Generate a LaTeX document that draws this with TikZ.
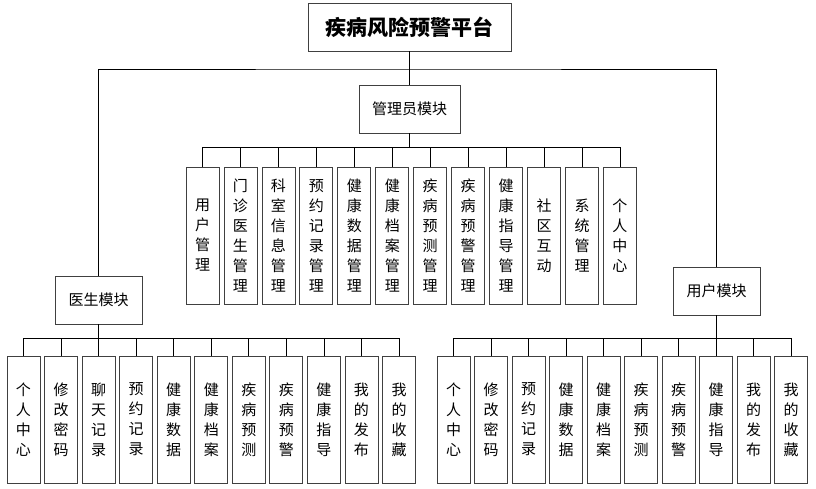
\documentclass[tikz,border=0pt]{standalone}
\usepackage{fontspec}
\newfontfamily\cjk{Noto Sans CJK SC}
\tikzset{
  box/.style={draw=black!75, line width=0.8pt, fill=white, inner sep=0pt, align=center},
  titlebox/.style={box, minimum width=203pt, minimum height=48pt, font=\cjk\bfseries\fontsize{21}{24}\selectfont},
  modbox/.style={box, minimum width=87pt, minimum height=48pt, font=\cjk\fontsize{15}{20}\selectfont},
  adminbox/.style={box, minimum width=101pt, minimum height=48pt, font=\cjk\fontsize{15}{20}\selectfont},
  vbox/.style={box, minimum width=33pt, font=\cjk\fontsize{15}{20}\selectfont},
  conn/.style={draw=black, line width=0.8pt}
}
\begin{document}
\begin{tikzpicture}[x=1pt,y=-1pt]
\useasboundingbox (0,0) rectangle (816,489);
\node[titlebox] (title) at (409.5,27) {疾病风险预警平台};
\node[adminbox] (adm) at (409.5,109) {管理员模块};
\node[modbox] (doc) at (98.5,300) {医生模块};
\node[modbox] (usr) at (716.5,291) {用户模块};
\coordinate (hl) at (409.5,69);
\draw[conn] (title.south) -- (adm.north);
\draw[conn] (doc.north) |- (hl) -| (usr.north);
% admin children
\foreach \t [count=\i from 0] in {用\\户\\管\\理, 门\\诊\\医\\生\\管\\理, 科\\室\\信\\息\\管\\理, 预\\约\\记\\录\\管\\理, 健\\康\\数\\据\\管\\理, 健\\康\\档\\案\\管\\理, 疾\\病\\预\\测\\管\\理, 疾\\病\\预\\警\\管\\理, 健\\康\\指\\导\\管\\理, 社\\区\\互\\动, 系\\统\\管\\理, 个\\人\\中\\心}{
  \node[vbox, minimum height=137pt] (a\i) at (202.5+37.95*\i,235.5) {\t};
  \draw[conn] (adm.south) -- ++(0,14) -| (a\i.north);
}
% doctor children
\foreach \t [count=\i from 0] in {个\\人\\中\\心, 修\\改\\密\\码, 聊\\天\\记\\录, 预\\约\\记\\录, 健\\康\\数\\据, 健\\康\\档\\案, 疾\\病\\预\\测, 疾\\病\\预\\警, 健\\康\\指\\导, 我\\的\\发\\布, 我\\的\\收\\藏}{
  \node[vbox, minimum height=127pt] (d\i) at (23.5+37.55*\i,419.5) {\t};
  \draw[conn] (doc.south) -- ++(0,14) -| (d\i.north);
}
% user children
\foreach \t [count=\i from 0] in {个\\人\\中\\心, 修\\改\\密\\码, 预\\约\\记\\录, 健\\康\\数\\据, 健\\康\\档\\案, 疾\\病\\预\\测, 疾\\病\\预\\警, 健\\康\\指\\导, 我\\的\\发\\布, 我\\的\\收\\藏}{
  \node[vbox, minimum height=127pt] (u\i) at (453.5+37.5*\i,419.5) {\t};
  \draw[conn] (usr.south) -- ++(0,23) -| (u\i.north);
}
\end{tikzpicture}
\end{document}
